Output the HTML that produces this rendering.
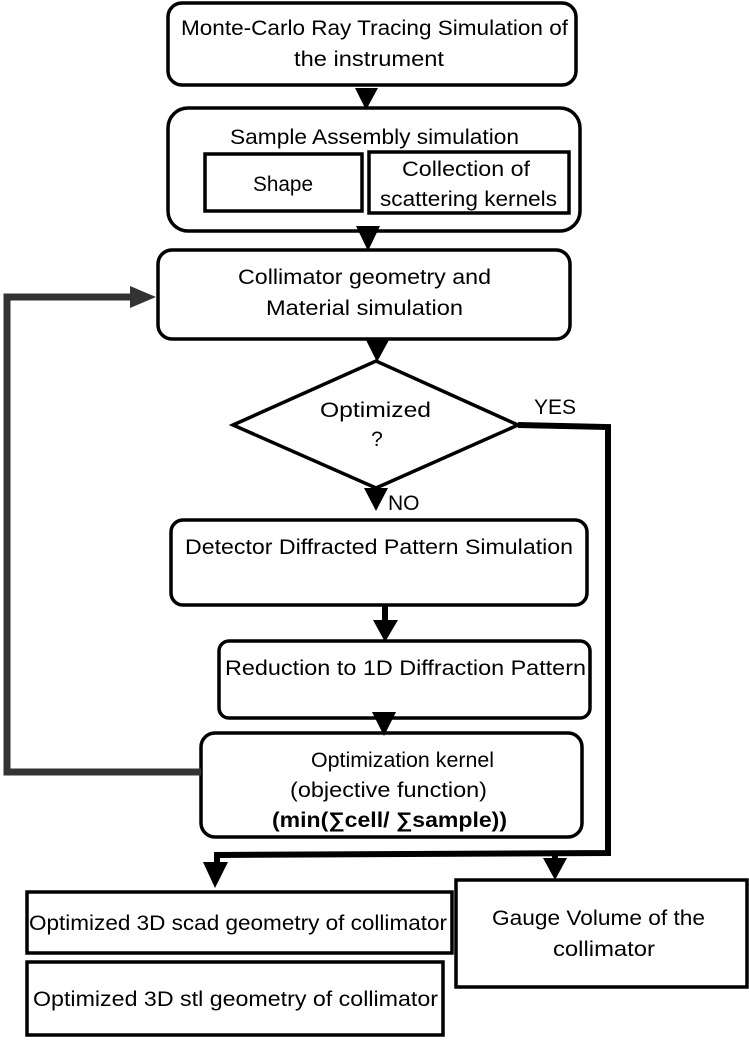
<!DOCTYPE html>
<html><head><style>
body{margin:0;background:#fff;}
svg text{font-family:"Liberation Sans",sans-serif;font-size:21px;fill:#000;}
</style></head><body>
<svg width="749" height="1039" viewBox="0 0 749 1039" xmlns="http://www.w3.org/2000/svg">
<g fill="none" stroke="#000" stroke-width="3.5">
<rect x="168" y="3" width="408" height="82" rx="14"/>
<rect x="168" y="108" width="412" height="123" rx="20"/>
<rect x="205" y="154" width="157" height="57"/>
<rect x="369" y="152" width="200" height="61"/>
<rect x="158" y="250" width="412" height="89" rx="14"/>
<polygon points="233,425 376,361 518,425 376,488"/>
<rect x="171" y="520" width="416" height="85" rx="12"/>
<rect x="219" y="641" width="371" height="77" rx="10"/>
<rect x="201" y="733" width="381" height="104" rx="14"/>
<rect x="27" y="892" width="425" height="61"/>
<rect x="27" y="962" width="416" height="73"/>
<rect x="456" y="880" width="291" height="107"/>
</g>
<g fill="none" stroke="#333" stroke-width="7">
<polyline points="201,772 7,772 7,297 132,297"/>
</g>
<polygon points="130,286 156,297 130,308" fill="#333"/>
<g fill="none" stroke="#000" stroke-width="6">
<polyline points="518,425 608,427 608,853 217,855 217,868"/>
<line x1="555" y1="854" x2="555" y2="862"/>
<line x1="385" y1="606" x2="385" y2="622"/>
</g>
<g fill="#000">
<polygon points="355,88 378,88 366,110"/>
<polygon points="356,226 380,226 368,251"/>
<polygon points="366,340 389,340 377,362"/>
<polygon points="364,488 388,488 376,511"/>
<polygon points="373,620 398,620 385,642"/>
<polygon points="372,712 396,712 384,736"/>
<polygon points="203,862 228,862 215,888"/>
<polygon points="543,858 567,858 555,880"/>
</g>
<g lengthAdjust="spacingAndGlyphs">
<text x="181" y="35" textLength="387" lengthAdjust="spacingAndGlyphs">Monte-Carlo Ray Tracing Simulation of</text>
<text x="294" y="66" textLength="150" lengthAdjust="spacingAndGlyphs">the instrument</text>
<text x="230" y="144" textLength="289" lengthAdjust="spacingAndGlyphs">Sample Assembly simulation</text>
<text x="253" y="191" textLength="60" lengthAdjust="spacingAndGlyphs">Shape</text>
<text x="402" y="176" textLength="128" lengthAdjust="spacingAndGlyphs">Collection of</text>
<text x="380" y="206" textLength="177" lengthAdjust="spacingAndGlyphs">scattering kernels</text>
<text x="238" y="284" textLength="253" lengthAdjust="spacingAndGlyphs">Collimator geometry and</text>
<text x="266" y="315" textLength="197" lengthAdjust="spacingAndGlyphs">Material simulation</text>
<text x="320" y="417" textLength="111" lengthAdjust="spacingAndGlyphs">Optimized</text>
<text x="377" y="446" text-anchor="middle">?</text>
<text x="534" y="414">YES</text>
<text x="388" y="510">NO</text>
<text x="185" y="554" textLength="388" lengthAdjust="spacingAndGlyphs">Detector Diffracted Pattern Simulation</text>
<text x="225" y="675" textLength="361" lengthAdjust="spacingAndGlyphs">Reduction to  1D Diffraction Pattern</text>
<text x="311" y="767" textLength="183" lengthAdjust="spacingAndGlyphs">Optimization   kernel</text>
<text x="290" y="797" textLength="197" lengthAdjust="spacingAndGlyphs">(objective function)</text>
<text x="272" y="827" textLength="235" lengthAdjust="spacingAndGlyphs" style="font-weight:bold">(min(∑cell/ ∑sample))</text>
<text x="29" y="930" textLength="418" lengthAdjust="spacingAndGlyphs">Optimized 3D scad geometry of collimator</text>
<text x="33" y="1006" textLength="405" lengthAdjust="spacingAndGlyphs">Optimized 3D stl geometry of collimator</text>
<text x="492" y="925" textLength="213" lengthAdjust="spacingAndGlyphs">Gauge Volume of the</text>
<text x="553" y="956" textLength="102" lengthAdjust="spacingAndGlyphs">collimator</text>
</g>
</svg>
</body></html>
